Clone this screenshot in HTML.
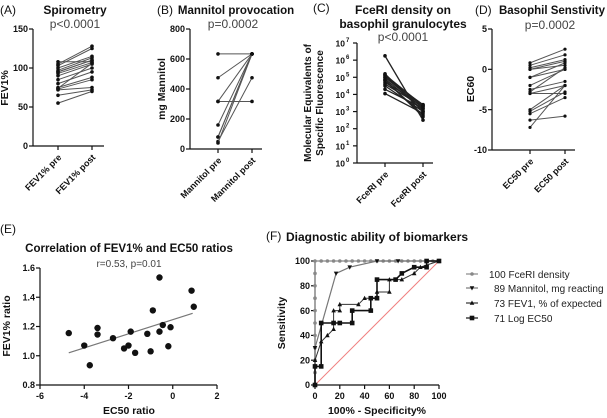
<!DOCTYPE html>
<html><head><meta charset="utf-8"><style>
html,body{margin:0;padding:0;background:#fff;}
svg{display:block;font-family:"Liberation Sans",Arial,sans-serif;}
</style></head><body>
<svg id="fig" width="607" height="418" viewBox="0 0 607 418"></svg>
<script>
// Panel A data (FEV1%)
const fevPre  = [55,65,72,73,75,80,85,90,93,95,97,100,103,105,108,74,95];
const fevPost = [70,72,75,85,88,95,100,105,107,110,113,115,125,128,108,106,110];
// Panel B data (mg Mannitol)
const manPre  = [634,475,317,317,160,80,50,80,40];
const manPost = [634,634,634,317,634,634,475,634,634];
// Panel C data (log10 FceRI)
const fcePre  = [6.25,5.2,5.1,5.0,4.9,4.8,4.7,4.5,4.3,4.05,4.6,5.0,5.15,4.85];
const fcePost = [2.5,3.0,3.3,3.2,3.1,2.8,3.4,3.0,3.2,2.9,3.3,3.4,3.35,2.7];
// Panel D data (EC50)
const ecPre  = [0.8,0.5,0,0,-1,-2,-3,-3,-2.5,-5,-5.5,-6.3,-7.2,0.2,-1,-2.8,-5.2];
const ecPost = [2.5,1.8,1,0.5,0,0,-2,-3,-1.5,-2,-3.5,-5.8,-2,1.2,0.8,0.2,-2.8];
// Panel E data
const corrX = [-4.7,-4,-3.75,-3.4,-3.4,-2.7,-2.2,-2,-1.9,-1.7,-1.15,-1,-0.9,-0.6,-0.6,-0.45,-0.2,-0.1,0.85,0.95];
const corrY = [1.155,1.07,0.935,1.19,1.145,1.12,1.05,1.07,1.165,1.02,1.15,1.03,1.31,1.535,1.165,1.21,1.065,1.195,1.445,1.335];
const fitX = [-4.7,0.9];
const fitY = [1.02,1.29];
// Panel F ROC data
const rocFceX = [0,0,0,0,0,0,0,0,0,0,0,5,10,15,20,25,30,35,40,45,50,55,60,65,70,75,80,85,90,95,100];
const rocFceY = [0,10,20,30,40,50,60,70,80,90,100,100,100,100,100,100,100,100,100,100,100,100,100,100,100,100,100,100,100,100,100];
const rocManX = [0,0,17,28,50,67,100];
const rocManY = [0,30,90,95,100,100,100];
const rocFevX = [0,0,5,10,15,15,20,20,35,40,50,50,60,60,70,80,85,100];
const rocFevY = [0,20,35,40,45,60,60,65,65,70,70,75,75,85,85,90,95,100];
const rocEcX = [0,0,5,5,15,20,30,30,45,45,50,50,65,70,80,90,90,100];
const rocEcY = [0,15,15,50,50,50,50,60,60,70,70,85,85,90,95,95,100,100];
const legendLabels = ["100 FceRI density","89 Mannitol, mg reacting","73 FEV1, % of expected","71 Log EC50"];

const NS="http://www.w3.org/2000/svg";
const svg=document.getElementById('fig');
function el(tag,parent){const e=document.createElementNS(NS,tag);(parent||svg).appendChild(e);return e;}
function set(e,o){for(const k in o)e.setAttribute(k,o[k]);return e;}
function txt(s,x,y,o,name){const t=el('text');set(t,Object.assign({x:x,y:y,'font-size':10,fill:'#111'},o||{}));t.textContent=s;


return t;}
function line(x1,y1,x2,y2,o,name){const l=el('line');set(l,Object.assign({x1:x1,y1:y1,x2:x2,y2:y2,stroke:'#111','stroke-width':1.2},o||{}));


return l;}
function dot(x,y,r,name){const c=el('circle');set(c,{cx:x,cy:y,r:r,fill:'#111'});


return c;}
function lin(d0,d1,p0,p1){return v=>p0+(v-d0)*(p1-p0)/(d1-d0);}

function yAxis(x,yTop,yBot,ticks,fn,name,fs){line(x,yTop,x,yBot,{},name+'-line');
ticks.forEach(t=>{const y=fn(t.v);line(x-4,y,x,y,{},name+'-tick');txt(t.l,x-5,y+3.2,{'text-anchor':'end','font-size':fs||9,'font-weight':'bold'},name+'-tick-label');});}
function rotLabel(s,x,y,name){const t=txt(s,x,y,{'text-anchor':'end','font-size':9,'font-weight':'bold',transform:'rotate(-45 '+x+' '+y+')'},name);}

// ---------- Panel A ----------
txt('(A)',0,14,{'font-size':12},'panel-a-label');
txt('Spirometry',75,14,{'text-anchor':'middle','font-size':12,'font-weight':'bold'},'panel-a-title');
txt('p<0.0001',75,28,{'text-anchor':'middle','font-size':12,fill:'#444'},'panel-a-pvalue');
const yA=lin(0,150,146,29);
yAxis(33,29,146,[{v:0,l:'0'},{v:50,l:'50'},{v:100,l:'100'},{v:150,l:'150'}],yA,'a-y-axis');
line(33,146,104,146,{},'a-x-axis');
[58,92].forEach(x=>line(x,146,x,150,{},'a-x-tick'));
txt('FEV1%',8,88,{'text-anchor':'middle','font-size':10.5,'font-weight':'bold',transform:'rotate(-90 8 88)'},'a-y-axis-title');
rotLabel('FEV1% pre',62,158,'a-x-label-pre');rotLabel('FEV1% post',96,158,'a-x-label-post');
fevPre.forEach((v,i)=>{line(58,yA(v),92,yA(fevPost[i]),{stroke:'#555','stroke-width':1},'a-pair-line');dot(58,yA(v),1.8,'a-pre-point');dot(92,yA(fevPost[i]),1.8,'a-post-point');});

// ---------- Panel B ----------
txt('(B)',157,14,{'font-size':12},'panel-b-label');
txt('Mannitol provocation',236,14,{'text-anchor':'middle','font-size':11.5,'font-weight':'bold'},'panel-b-title');
txt('p=0.0002',233,28,{'text-anchor':'middle','font-size':12,fill:'#444'},'panel-b-pvalue');
const yB=lin(0,800,149,29);
yAxis(190,29,149,[0,200,400,600,800].map(v=>({v:v,l:String(v)})),yB,'b-y-axis');
line(190,149,262,149,{},'b-x-axis');
[218,252].forEach(x=>line(x,149,x,153,{},'b-x-tick'));
txt('mg Mannitol',165,89,{'text-anchor':'middle','font-size':10.5,'font-weight':'bold',transform:'rotate(-90 165 89)'},'b-y-axis-title');
rotLabel('Mannitol pre',222,161,'b-x-label-pre');rotLabel('Mannitol post',256,161,'b-x-label-post');
manPre.forEach((v,i)=>{line(218,yB(v),252,yB(manPost[i]),{stroke:'#555','stroke-width':1},'b-pair-line');dot(218,yB(v),1.8,'b-pre-point');dot(252,yB(manPost[i]),1.8,'b-post-point');});

// ---------- Panel C ----------
txt('(C)',313,12,{'font-size':12},'panel-c-label');
txt('FceRI density on',403,14,{'text-anchor':'middle','font-size':12,'font-weight':'bold'},'panel-c-title-1');
txt('basophil granulocytes',403,28,{'text-anchor':'middle','font-size':12,'font-weight':'bold'},'panel-c-title-2');
txt('p<0.0001',403,41,{'text-anchor':'middle','font-size':12,fill:'#444'},'panel-c-pvalue');
const yC=lin(0,7,163,43);
line(357,43,357,163,{},'c-y-axis-line');
for(let k=0;k<=7;k++){const y=yC(k);line(353,y,357,y,{},'c-y-tick');
txt('10',345,y+3.5,{'text-anchor':'end','font-size':8.5,'font-weight':'bold'},'c-y-tick-label');
txt(String(k),346,y-1,{'font-size':6,'font-weight':'bold'},'c-y-tick-exp');}
line(357,163,433,163,{},'c-x-axis');
[385,423].forEach(x=>line(x,163,x,167,{},'c-x-tick'));
txt('Molecular Equivalents of',311,103,{'text-anchor':'middle','font-size':10,'font-weight':'bold',transform:'rotate(-90 311 103)'},'c-y-axis-title-1');
txt('Specific Fluorescence',323,103,{'text-anchor':'middle','font-size':10,'font-weight':'bold',transform:'rotate(-90 323 103)'},'c-y-axis-title-2');
rotLabel('FceRI pre',389,175,'c-x-label-pre');rotLabel('FceRI post',427,175,'c-x-label-post');
fcePre.forEach((v,i)=>{line(385,yC(v),423,yC(fcePost[i]),{stroke:'#222','stroke-width':1.3},'c-pair-line');dot(385,yC(v),1.8,'c-pre-point');dot(423,yC(fcePost[i]),1.8,'c-post-point');});

// ---------- Panel D ----------
txt('(D)',475,14,{'font-size':12},'panel-d-label');
txt('Basophil Senstivity',552,14,{'text-anchor':'middle','font-size':11.5,'font-weight':'bold'},'panel-d-title');
txt('p=0.0002',550,29,{'text-anchor':'middle','font-size':12,fill:'#444'},'panel-d-pvalue');
const yD=lin(-10,5,150,29);
yAxis(492,29,150,[{v:5,l:'5'},{v:0,l:'0'},{v:-5,l:'-5'},{v:-10,l:'-10'}],yD,'d-y-axis');
line(492,150,575,150,{},'d-x-axis');
[530,565].forEach(x=>line(x,150,x,154,{},'d-x-tick'));
txt('EC60',474,89,{'text-anchor':'middle','font-size':10.5,'font-weight':'bold',transform:'rotate(-90 474 89)'},'d-y-axis-title');
rotLabel('EC50 pre',534,162,'d-x-label-pre');rotLabel('EC50 post',569,162,'d-x-label-post');
ecPre.forEach((v,i)=>{line(530,yD(v),565,yD(ecPost[i]),{stroke:'#555','stroke-width':1},'d-pair-line');dot(530,yD(v),1.6,'d-pre-point');dot(565,yD(ecPost[i]),1.6,'d-post-point');});

// ---------- Panel E ----------
txt('(E)',0,233,{'font-size':12},'panel-e-label');
txt('Correlation of FEV1% and EC50 ratios',129,252,{'text-anchor':'middle','font-size':11.5,'font-weight':'bold'},'panel-e-title');
txt('r=0.53, p=0.01',129,267,{'text-anchor':'middle','font-size':10,fill:'#444'},'panel-e-stats');
const xE=lin(-6,2,40,217), yE=lin(0.8,1.6,385,268);
yAxis(40,268,385,[0.8,1.0,1.2,1.4,1.6].map(v=>({v:v,l:v.toFixed(1)})),yE,'e-y-axis');
line(40,385,217,385,{},'e-x-axis-line');
[-6,-4,-2,0,2].forEach(v=>{line(xE(v),385,xE(v),389,{},'e-x-tick');txt(String(v),xE(v),399,{'text-anchor':'middle','font-size':9,'font-weight':'bold'},'e-x-tick-label');});
txt('EC50 ratio',129,414,{'text-anchor':'middle','font-size':10.5,'font-weight':'bold'},'e-x-axis-title');
txt('FEV1% ratio',10,326,{'text-anchor':'middle','font-size':10.5,'font-weight':'bold',transform:'rotate(-90 10 326)'},'e-y-axis-title');
line(xE(fitX[0]),yE(fitY[0]),xE(fitX[1]),yE(fitY[1]),{stroke:'#777','stroke-width':1.2},'e-regression-line');
corrX.forEach((v,i)=>dot(xE(v),yE(corrY[i]),3.2,'e-point'));

// ---------- Panel F ----------
txt('(F)',266,240,{'font-size':12},'panel-f-label');
txt('Diagnostic ability of biomarkers',286,241,{'font-size':12,'font-weight':'bold'},'panel-f-title');
const xF=lin(0,100,315,439), yF=lin(0,100,385,261);
yAxis(315,261,385,[0,20,40,60,80,100].map(v=>({v:v,l:String(v)})),yF,'f-y-axis');
line(315,385,439,385,{},'f-x-axis-line');
[0,20,40,60,80,100].forEach(v=>{line(xF(v),385,xF(v),389,{},'f-x-tick');txt(String(v),xF(v),399,{'text-anchor':'middle','font-size':9,'font-weight':'bold'},'f-x-tick-label');});
txt('100% - Specificity%',377,414,{'text-anchor':'middle','font-size':10.5,'font-weight':'bold'},'f-x-axis-title');
txt('Sensitivity',285,323,{'text-anchor':'middle','font-size':10.5,'font-weight':'bold',transform:'rotate(-90 285 323)'},'f-y-axis-title');
line(xF(0),yF(0),xF(100),yF(100),{stroke:'#f08080','stroke-width':1},'f-reference-line');
function series(xs,ys,col,w,mk,name){const p=el('polyline');set(p,{points:xs.map((x,i)=>xF(x)+','+yF(ys[i])).join(' '),fill:'none',stroke:col,'stroke-width':w});


xs.forEach((x,i)=>{const cx=xF(x),cy=yF(ys[i]);let m;
if(mk==='sq'){m=el('rect');set(m,{x:cx-2.3,y:cy-2.3,width:4.6,height:4.6,fill:'#111'});}
else if(mk==='tri'){m=el('polygon');set(m,{points:(cx)+','+(cy-2.5)+' '+(cx-2.3)+','+(cy+1.8)+' '+(cx+2.3)+','+(cy+1.8),fill:'#111'});}
else if(mk==='dtri'){m=el('polygon');set(m,{points:(cx)+','+(cy+2.5)+' '+(cx-2.3)+','+(cy-1.8)+' '+(cx+2.3)+','+(cy-1.8),fill:'#111'});}
else {m=el('circle');set(m,{cx:cx,cy:cy,r:1.8,fill:'#888'});}

});}
series(rocFceX,rocFceY,'#888',1.2,'circ','f-roc-fceri');
series(rocManX,rocManY,'#777',1.2,'dtri','f-roc-mannitol');
series(rocFevX,rocFevY,'#333',1,'tri','f-roc-fev1');
series(rocEcX,rocEcY,'#111',1.6,'sq','f-roc-ec50');
// legend
const legY=[274,288,303,318], legMk=['circ','dtri','tri','sq'], legCol=['#888','#777','#333','#111'];
legendLabels.forEach((s,i)=>{const y=legY[i];
line(466,y,478,y,{stroke:legCol[i],'stroke-width':1.2},'legend-line');
let m;const cx=472;
if(legMk[i]==='sq'){m=el('rect');set(m,{x:cx-2.3,y:y-2.3,width:4.6,height:4.6,fill:'#111'});}
else if(legMk[i]==='tri'){m=el('polygon');set(m,{points:cx+','+(y-2.5)+' '+(cx-2.3)+','+(y+1.8)+' '+(cx+2.3)+','+(y+1.8),fill:'#111'});}
else if(legMk[i]==='dtri'){m=el('polygon');set(m,{points:cx+','+(y+2.5)+' '+(cx-2.3)+','+(y-1.8)+' '+(cx+2.3)+','+(y-1.8),fill:'#111'});}
else {m=el('circle');set(m,{cx:cx,cy:y,r:1.8,fill:'#888'});}


txt(s,i===0?489:494,y+4,{'font-size':10,fill:'#222'},'legend-entry');});
</script>
</body></html>
